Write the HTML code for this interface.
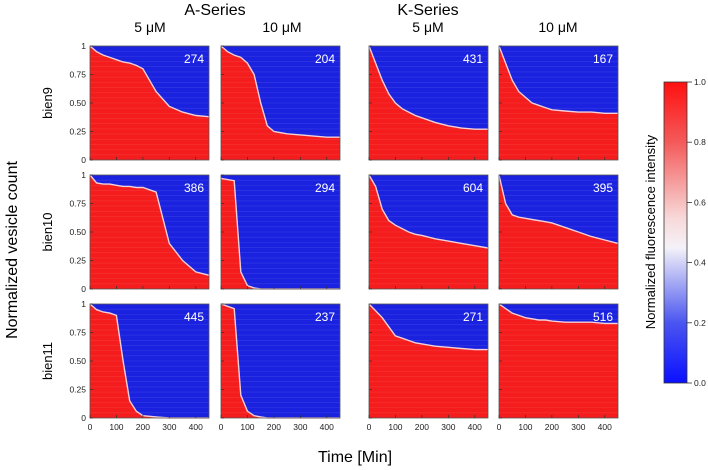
<!DOCTYPE html>
<html><head><meta charset="utf-8"><style>
html,body{margin:0;padding:0;background:#fff;}
svg{display:block;font-family:"Liberation Sans",sans-serif;}
</style></head><body>
<svg id="fig" width="708" height="470" viewBox="0 0 708 470" xmlns="http://www.w3.org/2000/svg">
<defs>
<linearGradient id="cbar" x1="0" y1="1" x2="0" y2="0">
<stop offset="0" stop-color="#0a10ff"/>
<stop offset="0.2" stop-color="#4a55f0"/>
<stop offset="0.45" stop-color="#f4f2f8"/>
<stop offset="0.55" stop-color="#f8d8d8"/>
<stop offset="0.8" stop-color="#f45a5a"/>
<stop offset="1" stop-color="#ff1010"/>
</linearGradient>
<linearGradient id="edge" x1="0" y1="0" x2="1" y2="0">
<stop offset="0" stop-color="#fff" stop-opacity="0"/>
<stop offset="1" stop-color="#fff" stop-opacity="0"/>
</linearGradient>
</defs>
<text x="215" y="15" font-size="16" text-anchor="middle">A-Series</text>
<text x="150" y="32" font-size="14" text-anchor="middle">5 μM</text>
<text x="282" y="32" font-size="14" text-anchor="middle">10 μM</text>
<text x="428" y="15" font-size="16" text-anchor="middle">K-Series</text>
<text x="428" y="32" font-size="14" text-anchor="middle">5 μM</text>
<text x="558" y="32" font-size="14" text-anchor="middle">10 μM</text>
<text transform="translate(17,250) rotate(-90)" font-size="16" text-anchor="middle">Normalized vesicle count</text>
<text x="355" y="462" font-size="16" text-anchor="middle">Time [Min]</text>
<g id="panels"></g>
<rect x="664" y="82" width="23" height="301" fill="url(#cbar)" stroke="#333" stroke-width="0.8"/>
<g id="cbticks"></g>
<text transform="translate(655,232) rotate(-90)" font-size="13" text-anchor="middle">Normalized fluorescence intensity</text>
</svg>
<script>
// boundary curves: fraction of vesicles still fluorescent vs time (min)
const times = [0,25,50,75,100,125,150,175,200,250,300,350,400,450];
const a5_bien9  = [1,0.95,0.92,0.9,0.88,0.86,0.85,0.83,0.8,0.6,0.47,0.42,0.39,0.38];
const a10_bien9 = [1,0.95,0.92,0.9,0.85,0.75,0.5,0.3,0.25,0.23,0.22,0.21,0.2,0.2];
const k5_bien9  = [1,0.85,0.7,0.58,0.5,0.45,0.42,0.39,0.37,0.33,0.3,0.28,0.27,0.27];
const k10_bien9 = [1,0.85,0.7,0.6,0.55,0.5,0.48,0.46,0.44,0.43,0.42,0.42,0.41,0.41];
const a5_bien10 = [1,0.93,0.92,0.92,0.91,0.9,0.9,0.89,0.89,0.85,0.4,0.25,0.15,0.12];
const a10_bien10= [0.97,0.96,0.95,0.15,0.03,0.01,0,0,0,0,0,0,0,0];
const k5_bien10 = [1,0.9,0.7,0.6,0.56,0.53,0.5,0.48,0.47,0.44,0.42,0.4,0.38,0.36];
const k10_bien10= [1,0.75,0.65,0.63,0.62,0.61,0.6,0.59,0.58,0.54,0.5,0.46,0.43,0.4];
const a5_bien11 = [1,0.95,0.93,0.92,0.9,0.5,0.15,0.06,0.02,0.01,0,0,0,0];
const a10_bien11= [1,0.98,0.96,0.2,0.06,0.02,0.01,0,0,0,0,0,0,0];
const k5_bien11 = [1,0.94,0.88,0.8,0.72,0.7,0.68,0.66,0.65,0.63,0.62,0.61,0.6,0.6];
const k10_bien11= [1,0.96,0.92,0.9,0.88,0.87,0.86,0.86,0.85,0.84,0.84,0.84,0.83,0.83];
const counts = [274,204,431,167,386,294,604,395,445,237,271,516];
const series = [a5_bien9,a10_bien9,k5_bien9,k10_bien9,a5_bien10,a10_bien10,k5_bien10,k10_bien10,a5_bien11,a10_bien11,k5_bien11,k10_bien11];
const rowNames = ["bien9","bien10","bien11"];
const xTicks = [0,100,200,300,400];
const yTicks = [0,0.25,0.5,0.75,1];
const yTickLabels = ["0","0.25","0.50","0.75","1"];
const cbTicks = [0,0.2,0.4,0.6,0.8,1.0];

const NS="http://www.w3.org/2000/svg";
const colX=[90,221,369,499], rowY=[46,175,304], PW=119, PH=114, XMAX=450;
const g=document.getElementById('panels');
function mk(tag,attrs,parent){const e=document.createElementNS(NS,tag);for(const k in attrs)e.setAttribute(k,attrs[k]);(parent||g).appendChild(e);return e;}
function xs(x0,t){return x0+t/XMAX*PW;}
function ys(y0,v){return y0+PH-v*PH;}
for(let r=0;r<3;r++){
  const lab=mk('text',{transform:`translate(${rowY[r]===0?0:52},${rowY[r]+PH/2}) rotate(-90)`,'font-size':13,'text-anchor':'middle'});
  lab.textContent=rowNames[r];
  
  
  for(let c=0;c<4;c++){
    const i=r*4+c, x0=colX[c], y0=rowY[r], vals=series[i];
    const pg=mk('g',{});
    
    
    mk('rect',{x:x0,y:y0,width:PW,height:PH,fill:'#1a22e0'},pg);
    let pts=`${x0},${y0+PH} `;
    for(let j=0;j<times.length;j++) pts+=`${xs(x0,times[j]).toFixed(1)},${ys(y0,vals[j]).toFixed(1)} `;
    pts+=`${x0+PW},${y0+PH}`;
    const poly=mk('polygon',{points:pts,fill:'#f41c1c'},pg);
    
    
    let lp='';
    for(let j=0;j<times.length;j++) lp+=`${xs(x0,times[j]).toFixed(1)},${ys(y0,vals[j]).toFixed(1)} `;
    const bl=mk('polyline',{points:lp,fill:'none',stroke:'#f4d0d8','stroke-width':1.4},pg);
    
    
    // faint streaks for texture
    for(let k=1;k<22;k++){
      mk('line',{x1:x0,x2:x0+PW,y1:y0+k*PH/22,y2:y0+k*PH/22,stroke:'#fff','stroke-opacity':0.12,'stroke-width':0.6},pg);
    }
    mk('rect',{x:x0,y:y0,width:PW,height:PH,fill:'none',stroke:'#555','stroke-width':0.8},pg);
    for(const t of xTicks) mk('line',{x1:xs(x0,t),x2:xs(x0,t),y1:y0+PH,y2:y0+PH-3,stroke:'#333','stroke-width':0.7},pg);
    for(const v of yTicks) mk('line',{x1:x0,x2:x0+3,y1:ys(y0,v),y2:ys(y0,v),stroke:'#333','stroke-width':0.7},pg);
    const n=mk('text',{x:x0+PW-5,y:y0+17,'font-size':12,fill:'#fff','text-anchor':'end'},pg);
    n.textContent=counts[i];
    
    
    if(c===0){
      for(let k=0;k<yTicks.length;k++){
        const t=mk('text',{x:x0-4,y:ys(y0,yTicks[k])+3,'font-size':8.5,'text-anchor':'end',fill:'#222'},pg);
        t.textContent=yTickLabels[k];
        
        
      }
    }
    if(r===2){
      for(const tv of xTicks){
        const t=mk('text',{x:xs(x0,tv),y:y0+PH+12,'font-size':8.5,'text-anchor':'middle',fill:'#222'},pg);
        t.textContent=tv;
        
        
      }
    }
  }
}
const cb=document.getElementById('cbticks');
for(const v of cbTicks){
  const y=383-v*301;
  mk('line',{x1:687,x2:692,y1:y,y2:y,stroke:'#333','stroke-width':0.8},cb);
  const t=mk('text',{x:694,y:y+3,'font-size':8.5,fill:'#222'},cb);
  t.textContent=v.toFixed(1);
  
  
}
</script>
</body></html>
